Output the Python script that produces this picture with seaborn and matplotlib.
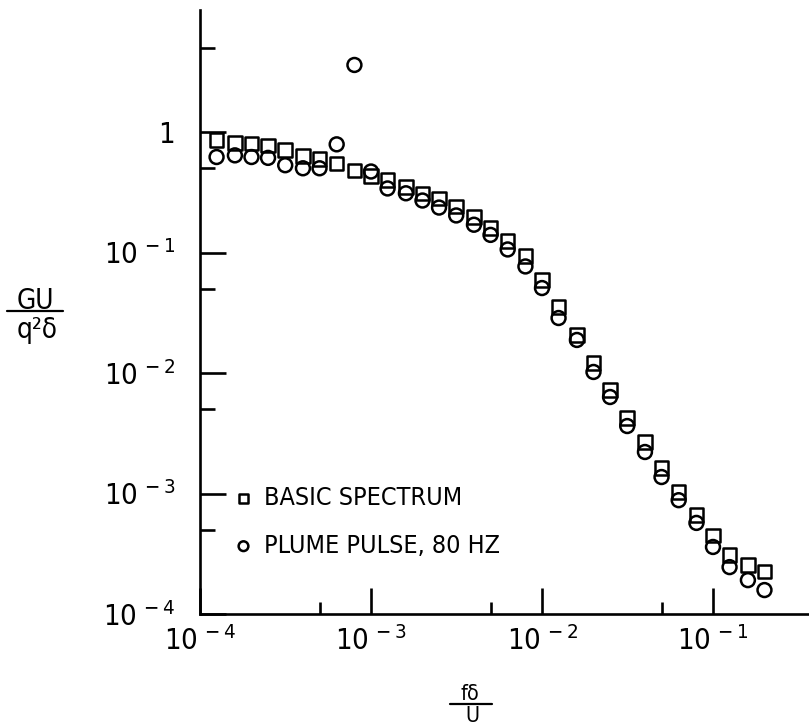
import numpy as np
import pandas as pd
import matplotlib
matplotlib.use('Agg')
import matplotlib.pyplot as plt
import matplotlib.ticker as mticker
from matplotlib.lines import Line2D
import seaborn as sns

# DATA
# one-third octave band centres, f*delta/U
freq = [1.25e-4, 1.6e-4, 2e-4, 2.5e-4, 3.15e-4, 4e-4, 5e-4, 6.3e-4, 8e-4,
        1e-3, 1.25e-3, 1.6e-3, 2e-3, 2.5e-3, 3.15e-3, 4e-3, 5e-3, 6.3e-3, 8e-3,
        1e-2, 1.25e-2, 1.6e-2, 2e-2, 2.5e-2, 3.15e-2, 4e-2, 5e-2, 6.3e-2, 8e-2,
        0.1, 0.125, 0.16, 0.2]
basic = [0.86, 0.81, 0.80, 0.77, 0.71, 0.63, 0.60, 0.55, 0.48,
         0.43, 0.40, 0.35, 0.31, 0.28, 0.24, 0.197, 0.16, 0.125, 0.094,
         0.059, 0.0353, 0.0207, 0.0121, 0.00723, 0.00423, 0.00267, 0.00163, 0.00103, 6.6e-4,
         4.5e-4, 3.1e-4, 2.55e-4, 2.25e-4]
plume = [0.62, 0.64, 0.62, 0.61, 0.53, 0.50, 0.50, 0.79, 3.6,
         0.47, 0.34, 0.31, 0.27, 0.236, 0.203, 0.17, 0.14, 0.106, 0.0766,
         0.0507, 0.0286, 0.0188, 0.0102, 0.00632, 0.00363, 0.00221, 0.00137, 8.8e-4, 5.7e-4,
         3.6e-4, 2.45e-4, 1.91e-4, 1.58e-4]
series_names = ['BASIC SPECTRUM', 'PLUME PULSE, 80 HZ']

xticks = [1e-4, 1e-3, 1e-2, 1e-1]
xtick_labels = [r'$\mathregular{10^{\,-4}}$', r'$\mathregular{10^{\,-3}}$',
                r'$\mathregular{10^{\,-2}}$', r'$\mathregular{10^{\,-1}}$']
yticks = [1e-4, 1e-3, 1e-2, 1e-1, 1]
ytick_labels = [r'$\mathregular{10^{\,-4}}$', r'$\mathregular{10^{\,-3}}$',
                r'$\mathregular{10^{\,-2}}$', r'$\mathregular{10^{\,-1}}$', '1']
xminor = [5e-4, 5e-3, 5e-2]
yminor = [5e-4, 5e-3, 5e-2, 0.5, 5]

df = pd.DataFrame({'freq': freq, 'basic': basic, 'plume': plume})

sns.set_theme(style='ticks')
plt.rcParams['font.family'] = ['DejaVu Sans']
plt.rcParams['font.stretch'] = 'condensed'
plt.rcParams['axes.linewidth'] = 1.9
for key in ['text.color', 'axes.labelcolor', 'xtick.color', 'ytick.color', 'axes.edgecolor']:
    plt.rcParams[key] = 'black'

fig = plt.figure(figsize=(8.09, 7.27), dpi=100)
ax = fig.add_axes([200/809, 1 - 614/727, 609/809, 604/727])

sns.scatterplot(data=df, x='freq', y='basic', marker='s', s=95,
                facecolor='none', edgecolor='black', linewidth=1.8,
                label=series_names[0], ax=ax)
sns.scatterplot(data=df, x='freq', y='plume', marker='o', s=100,
                facecolor='none', edgecolor='black', linewidth=1.8,
                label=series_names[1], ax=ax)

ax.set_xscale('log')
ax.set_yscale('log')
ax.set_xlim(1e-4, 10 ** (-4 + 609 / 171))
ax.set_ylim(1e-4, 10 ** (604 / 120.5 - 4))

ax.xaxis.set_major_locator(mticker.FixedLocator(xticks))
ax.xaxis.set_major_formatter(mticker.FixedFormatter(xtick_labels))
ax.xaxis.set_minor_locator(mticker.FixedLocator(xminor))
ax.xaxis.set_minor_formatter(mticker.NullFormatter())
ax.yaxis.set_major_locator(mticker.FixedLocator(yticks))
ax.yaxis.set_major_formatter(mticker.FixedFormatter(ytick_labels))
ax.yaxis.set_minor_locator(mticker.FixedLocator(yminor))
ax.yaxis.set_minor_formatter(mticker.NullFormatter())

sns.despine(ax=ax)
ax.tick_params(axis='both', which='both', direction='in', color='black', width=1.9,
               bottom=True, left=True, top=False, right=False)
ax.tick_params(axis='x', which='major', length=19, pad=9, labelsize=21)
ax.tick_params(axis='x', which='minor', length=9)
ax.tick_params(axis='y', which='major', length=19, pad=18, labelsize=21)
ax.tick_params(axis='y', which='minor', length=11)
ax.set_xlabel('')
ax.set_ylabel('')

leg = ax.legend(loc='upper left', bbox_to_anchor=(236/809, 1 - 486/727),
                bbox_transform=fig.transFigure, frameon=False, fontsize=18,
                markerscale=0.7, handlelength=0.6, handletextpad=0.5,
                labelspacing=0.95, borderpad=0, borderaxespad=0)

# axis labels drawn as stacked fractions
fig.text(35/809, 1 - 309/727, 'GU', ha='center', va='baseline', fontsize=20)
fig.add_artist(Line2D([7/809, 63/809], [1 - 311/727, 1 - 311/727], color='black', lw=1.6))
fig.text(37/809, 1 - 338/727, 'q²δ', ha='center', va='baseline', fontsize=20)

fig.text(470/809, 1 - 700/727, 'fδ', ha='center', va='baseline', fontsize=15.5)
fig.add_artist(Line2D([450/809, 492/809], [1 - 703.5/727, 1 - 703.5/727], color='black', lw=1.6))
fig.text(472/809, 1 - 721.5/727, 'U', ha='center', va='baseline', fontsize=15.5)

fig.savefig('out.png', dpi=100)
